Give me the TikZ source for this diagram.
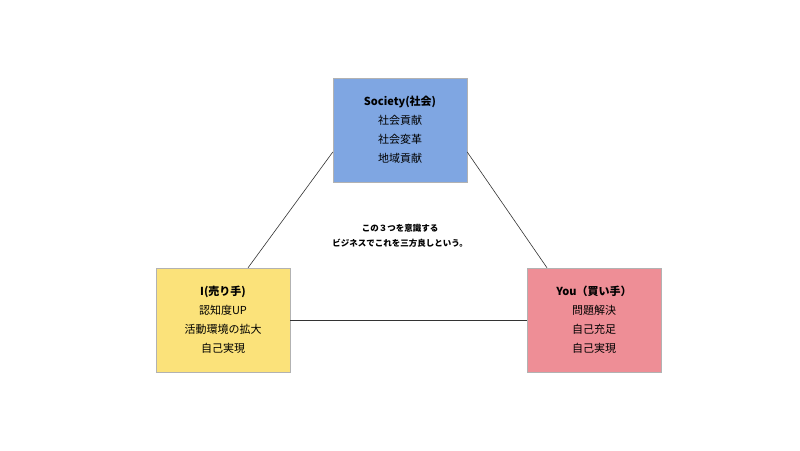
\documentclass[tikz,border=0pt]{standalone}
\usepackage{fontspec}
\setmainfont{Noto Sans CJK JP}
\usetikzlibrary{calc, positioning}
\tikzset{
    boxnode/.style = {draw=gray!60, rectangle, minimum width=134pt, minimum height=104pt,
      align=center, font=\fontsize{11}{19}\selectfont},
    textnode/.style = {draw=none, fill=none, align=center, inner sep=0pt,
      font=\bfseries\fontsize{8.5}{15}\selectfont},
    connect/.style = {black!80, line width=0.6pt}
}
\definecolor{soc}{RGB}{127,166,226}
\definecolor{sel}{RGB}{251,226,122}
\definecolor{you}{RGB}{238,142,150}

\begin{document}
\begin{tikzpicture}[x=1pt, y=-1pt]
\useasboundingbox[fill=white] (0,0) rectangle (800,450);
\node[boxnode, name=society, fill=soc] at (400,130) {\textbf{Society(社会)}\\社会貢献\\社会変革\\地域貢献};
\node[boxnode, name=seller, fill=sel] at (223,320) {\textbf{I(売り手)}\\認知度UP\\活動環境の拡大\\自己実現};
\node[boxnode, name=buyer, fill=you] at (594,320) {\textbf{You（買い手）}\\問題解決\\自己充足\\自己実現};

\node[textnode, name=note] at (400,236) {この３つを意識する\\ビジネスでこれを三方良しという。};

\draw[connect] ($(seller.north)+(25,0)$) -- ($(society.west)+(0,22)$);
\draw[connect] ($(society.east)+(0,22)$) -- ($(buyer.north)+(-47,0)$);
\draw[connect] (seller.east) -- (buyer.west);
\end{tikzpicture}
\end{document}
